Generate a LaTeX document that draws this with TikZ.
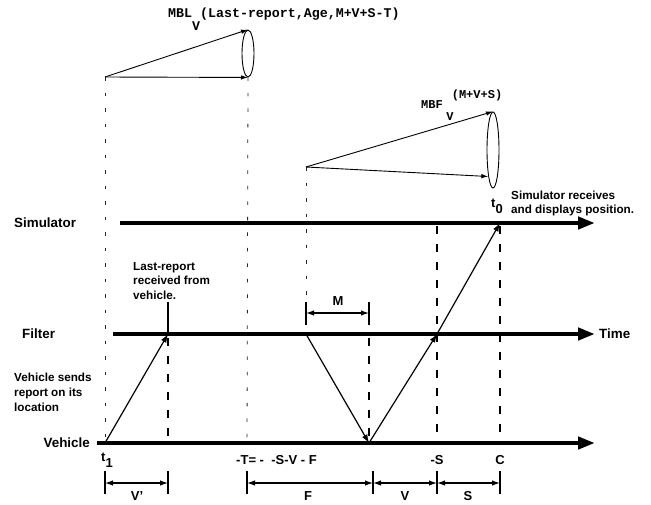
\documentclass[tikz,border=0pt]{standalone}
\usepackage{fontspec}
\setmainfont{Liberation Sans}
\setmonofont{Liberation Mono}
\usetikzlibrary{arrows.meta,shapes.geometric}
\begin{document}
\begin{tikzpicture}[x=1pt,y=-1pt,
  timeline/.style={line width=4.5pt, -{Triangle[length=17pt,width=12pt]}},
  thindash/.style={black!85, line width=0.8pt, dash pattern=on 3.5pt off 12pt},
  thickdash/.style={line width=2pt, dash pattern=on 8pt off 10pt},
  msg/.style={line width=1.2pt, -{Latex[length=8.5pt,width=6pt]}},
  cone/.style={line width=0.9pt, -{Latex[length=7pt,width=4.5pt]}},
  ell/.style={draw, ellipse, line width=0.9pt, inner sep=0pt},
  tickline/.style={line width=1.6pt},
  dimline/.style={line width=1.2pt, {Latex[length=8pt,width=5.5pt]}-{Latex[length=8pt,width=5.5pt]}},
  lab/.style={font=\fontsize{13.4}{16}\selectfont\bfseries, inner sep=0pt},
  note/.style={font=\fontsize{11.7}{14.7}\selectfont\bfseries, inner sep=0pt, align=left, anchor=north west},
  blab/.style={font=\fontsize{13}{15}\selectfont\bfseries, inner sep=0pt},
  monoA/.style={font=\fontsize{13.3}{15}\selectfont\ttfamily\bfseries, inner sep=0pt},
  monoB/.style={font=\fontsize{12}{14}\selectfont\ttfamily\bfseries, inner sep=0pt},
]
\useasboundingbox (0,0) rectangle (651,504);

% key coordinates
\coordinate (simL) at (120,223);  \coordinate (simR) at (595,223);
\coordinate (filL) at (113,334);  \coordinate (filR) at (595,334);
\coordinate (vehL) at (97,443);   \coordinate (vehR) at (595,443);
\coordinate (t1) at (105,443);
\coordinate (lr) at (168,334);
\coordinate (lrTop) at (168,302);
\coordinate (fs) at (306,334);
\coordinate (vr) at (369,443);
\coordinate (fr) at (437,334);
\coordinate (s0) at (500,223);
\coordinate (mblA) at (105,77);
\coordinate (mbfA) at (306,167);

% ellipses of the cones
\node[ell, minimum width=12pt, minimum height=47pt] (mblE) at (248,53.5) {};
\node[ell, minimum width=12pt, minimum height=76pt] (mbfE) at (493,150) {};

% thin dashed guide lines
\draw[thindash] (mblA) -- (t1);
\draw[thindash] (mblE.south) -- (247,443);
\draw[thindash] (mbfA) -- (306,302);

% thick dashed guide lines
\draw[thickdash] (168,338) -- (168,443);
\draw[thickdash] (369,338) -- (vr);
\draw[thickdash] (437,226) -- (437,443);
\draw[thickdash] (500,226) -- (500,443);

% timelines
\draw[timeline] (simL) -- (simR);
\draw[timeline] (filL) -- (filR);
\draw[timeline] (vehL) -- (vehR);

% side labels
\node[lab, anchor=west] (lsim) at (14,223) {Simulator};
\node[lab, anchor=west] (lfil) at (22,334) {Filter};
\node[lab, anchor=east] (lveh) at (90,443) {Vehicle};
\node[lab, anchor=west] (ltime) at (599,334) {Time};

% messages
\draw[msg] (t1) -- (lr);
\draw[msg] (fs) -- (vr);
\draw[msg] (vr) -- (fr);
\draw[msg] (fr) -- (s0);

% last-report tick
\draw[tickline] (lrTop) -- (lr);

% cones
\draw[cone] (mblA) -- (mblE.north);
\draw[cone] (mblA) -- (mblE.south);
\draw[cone] (mbfA) -- (mbfE.north);
\draw[cone] (mbfA) -- (mbfE.-100);

% cone labels
\node[monoA, anchor=base west] (mblT) at (168,17) {MBL (Last-report,Age,M+V+S-T)};
\node[monoA] (mblV) at (196,26) {V};
\node[monoB] (mbfT) at (432,105) {MBF};
\node[monoB] (mbfV) at (450,117) {V};
\node[monoB] (mbfS) at (477,95) {(M+V+S)};

% notes
\node[note] (nLast) at (133,262) {Last-report\\received from\\vehicle.};
\node[note] (nVeh) at (14,373) {Vehicle sends\\report on its\\location};
\node[note] (nSim) at (511,190.5) {Simulator receives\\and displays position.};

% time marks
\node[blab] (t0lab) at (497,206) {t\raisebox{-6pt}{0}};
\node[blab] (t1lab) at (107,460) {t\raisebox{-6pt}{1}};
\node[blab] (Tlab) at (276.5,460) {-T= - \ -S-V - F};
\node[blab] (Slab) at (437,460) {-S};
\node[blab] (Clab) at (500,460) {C};

% M dimension
\coordinate (m1) at (306,313); \coordinate (m2) at (369,313);
\draw[tickline] (306,302) -- (306,325);
\draw[tickline] (369,302) -- (369,325);
\draw[dimline] (m1) -- (m2);
\node[blab] (Mlab) at (338,301) {M};

% bottom dimensions
\foreach \x/\n in {105/a,168/b,247/c,373/d,437/e,500/f}{
  \coordinate (d\n) at (\x,483);
  \draw[tickline] (\x,471) -- (\x,494);
}
\draw[dimline] (da) -- (db);
\draw[dimline] (dc) -- (dd);
\draw[dimline] (dd) -- (de);
\draw[dimline] (de) -- (df);
\node[blab] (Vplab) at (137,496) {V'};
\node[blab] (Flab) at (308,496) {F};
\node[blab] (Vlab) at (405,496.5) {V};
\node[blab] (Slab2) at (468,496) {S};
\end{tikzpicture}
\end{document}
